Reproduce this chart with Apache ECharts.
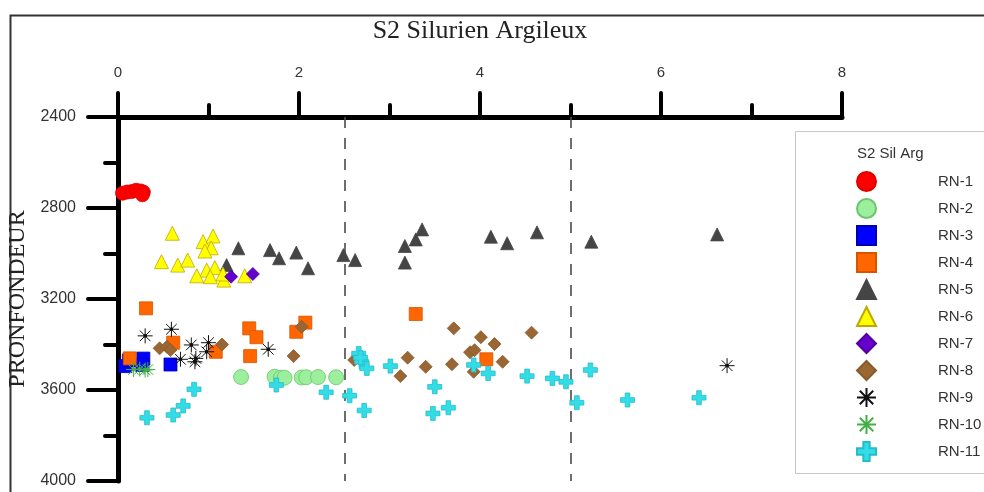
<!DOCTYPE html>
<html>
<head>
<meta charset="utf-8">
<script src="https://cdn.jsdelivr.net/npm/echarts@6/dist/echarts.min.js"></script>
<style>
  html, body { margin: 0; padding: 0; background: #fff; }
  #chart { width: 984px; height: 492px; }
</style>
</head>
<body>
<div id="chart"></div>
<script>
// S2 Silurien Argileux values per well: [S2, depth (m)]
const wells = ['RN-1', 'RN-2', 'RN-3', 'RN-4', 'RN-5', 'RN-6', 'RN-7', 'RN-8', 'RN-9', 'RN-10', 'RN-11'];

const rn1 = [[0.05, 2735], [0.10, 2730], [0.15, 2728], [0.20, 2722], [0.25, 2725], [0.28, 2730], [0.27, 2742]];
const rn2 = [[1.36, 3543], [1.73, 3542], [1.80, 3546], [1.84, 3546], [2.03, 3545], [2.08, 3544], [2.21, 3543], [2.41, 3544]];
const rn3 = [[0.08, 3495], [0.12, 3470], [0.28, 3462], [0.27, 3490], [0.58, 3488]];
const rn4 = [[0.31, 3241], [0.13, 3461], [0.61, 3392], [1.08, 3432], [1.45, 3329], [1.53, 3368], [1.46, 3451], [1.97, 3344], [2.07, 3304], [3.29, 3266], [4.07, 3465]];
const rn5 = [[1.20, 3051], [1.33, 2977], [1.68, 2985], [1.78, 3021], [1.97, 2996], [2.10, 3065], [2.49, 3007], [2.62, 3029], [3.17, 2967], [3.17, 3040], [3.29, 2938], [3.36, 2894], [4.12, 2926], [4.30, 2955], [4.63, 2907], [5.23, 2948], [6.62, 2916]];
const rn6 = [[0.60, 2911], [0.94, 2948], [1.05, 2923], [1.03, 2975], [0.96, 2989], [0.48, 3036], [0.66, 3051], [0.77, 3029], [0.98, 3073], [1.07, 3062], [0.87, 3098], [1.02, 3102], [1.17, 3117], [1.16, 3090], [1.40, 3098]];
const rn7 = [[1.25, 3102], [1.49, 3090]];
const rn8 = [[0.46, 3417], [0.54, 3410], [0.58, 3424], [1.15, 3400], [1.94, 3451], [2.03, 3322], [2.61, 3468], [3.20, 3458], [3.12, 3539], [3.40, 3498], [3.69, 3487], [3.71, 3329], [4.01, 3368], [4.16, 3398], [3.89, 3434], [3.94, 3425], [3.93, 3520], [4.25, 3476], [4.57, 3348]];
const rn9 = [[0.30, 3362], [0.59, 3333], [0.81, 3402], [1.00, 3392], [0.69, 3465], [0.86, 3461], [0.85, 3476], [0.98, 3432], [1.66, 3421], [6.73, 3493]];
const rn10 = [[0.17, 3510], [0.24, 3508], [0.30, 3512], [0.33, 3510]];
const rn11 = [[0.32, 3722], [0.61, 3710], [0.72, 3670], [0.84, 3597], [1.75, 3578], [2.30, 3610], [2.56, 3625], [2.72, 3690], [2.66, 3440], [2.69, 3476], [2.68, 3458], [2.75, 3505], [3.01, 3495], [3.50, 3586], [3.48, 3703], [3.65, 3678], [3.93, 3490], [4.09, 3527], [4.52, 3539], [4.80, 3549], [4.95, 3564], [5.22, 3512], [5.07, 3656], [5.63, 3644], [6.42, 3634]];

// Cut-off values of S2 shown as dashed reference lines
const cutoffs = [2.5, 5];

const STAR = 'path://M0,-10L0,10M-10,0L10,0M-7.07,-7.07L7.07,7.07M-7.07,7.07L7.07,-7.07M-1.6,-1.6h3.2v3.2h-3.2z';
const CROSS = 'path://M-1,-3h2v2h2v2h-2v2h-2v-2h-2v-2h2z';

const styles = [
  { data: rn1, symbol: 'circle', size: 14, color: '#ff0000', border: '#e00000' },
  { data: rn2, symbol: 'circle', size: 15, color: '#9cef9c', border: '#6cc46c' },
  { data: rn3, symbol: 'rect', size: 13, color: '#0000ff', border: '#0000b0' },
  { data: rn4, symbol: 'rect', size: 13, color: '#ff6600', border: '#d85400' },
  { data: rn5, symbol: 'triangle', size: 13, color: '#454545', border: '#454545' },
  { data: rn6, symbol: 'triangle', size: 14, color: '#ffff00', border: '#c0a800' },
  { data: rn7, symbol: 'diamond', size: 13, color: '#6600cc', border: '#5000a0' },
  { data: rn8, symbol: 'diamond', size: 13, color: '#9a6634', border: '#8a5a2c' },
  { data: rn9, symbol: STAR, size: 15, color: '#000000', border: '#111111', bw: 1 },
  { data: rn10, symbol: STAR, size: 15, color: '#2f9e2f', border: '#44b044', bw: 1 },
  { data: rn11, symbol: CROSS, size: 14, color: '#33dde6', border: '#22bccb' }
];

const series = wells.map((name, i) => {
  const s = styles[i];
  return {
    name: name,
    type: 'scatter',
    data: s.data,
    symbol: s.symbol,
    symbolSize: s.size,
    itemStyle: { color: s.color, borderColor: s.border, borderWidth: s.bw || 0.8, opacity: 1 },
    z: 3 + i
  };
});

series.push({
  name: 'cutoff',
  type: 'scatter',
  data: [],
  silent: true,
  markLine: {
    silent: true,
    symbol: 'none',
    label: { show: false },
    lineStyle: { color: '#4a4a4a', width: 1.6, type: [11, 10] },
    data: cutoffs.map(v => ({ xAxis: v }))
  },
  z: 1
});

const chart = echarts.init(document.getElementById('chart'), null, { renderer: 'canvas' });
chart.setOption({
  animation: false,
  backgroundColor: '#ffffff',
  grid: { left: 118, top: 117, right: 142, bottom: 11, containLabel: false, outerBoundsMode: 'none' },
  xAxis: {
    type: 'value',
    position: 'top',
    min: 0, max: 8, interval: 2,
    name: 'S2 Silurien Argileux',
    nameLocation: 'middle',
    nameGap: 73,
    nameTextStyle: { fontFamily: 'Liberation Serif', fontSize: 26, color: '#222' },
    axisLine: { show: true, onZero: false, lineStyle: { color: '#000', width: 5 } },
    axisTick: { show: true, length: 24, lineStyle: { color: '#000', width: 4, cap: 'round' } },
    minorTick: { show: true, splitNumber: 2, length: 12, lineStyle: { color: '#000', width: 4, cap: 'round' } },
    axisLabel: { margin: 37, fontFamily: 'Liberation Sans', fontSize: 15, color: '#333' },
    splitLine: { show: false }
  },
  yAxis: {
    type: 'value',
    inverse: true,
    min: 2400, max: 4000, interval: 400,
    name: 'PRONFONDEUR',
    nameLocation: 'middle',
    nameGap: 84,
    nameRotate: 90,
    nameTextStyle: { fontFamily: 'Liberation Serif', fontSize: 24, color: '#222' },
    axisLine: { show: true, onZero: false, lineStyle: { color: '#000', width: 5 } },
    axisTick: { show: true, length: 30, lineStyle: { color: '#000', width: 4, cap: 'round' } },
    minorTick: { show: true, splitNumber: 2, length: 13, lineStyle: { color: '#000', width: 4, cap: 'round' } },
    axisLabel: { margin: 42, fontFamily: 'Liberation Sans', fontSize: 16, color: '#333', formatter: v => String(v) },
    splitLine: { show: false }
  },
  legend: {
    data: wells,
    orient: 'vertical',
    left: 851,
    top: 166,
    itemWidth: 19,
    itemHeight: 19,
    itemGap: 6,
    selectedMode: false,
    textStyle: { fontFamily: 'Liberation Sans', fontSize: 15, color: '#333', padding: [0, 0, 0, 57] }
  },
  graphic: [
    {
      type: 'rect', left: 8, top: 13, z: -10, silent: true,
      shape: { width: 1000, height: 500 },
      style: { fill: 'none', stroke: '#333', lineWidth: 2 }
    },
    {
      type: 'rect', left: 795, top: 131, z: -5, silent: true,
      shape: { width: 200, height: 342 },
      style: { fill: '#fff', stroke: '#c8c8c8', lineWidth: 1 }
    },
    {
      type: 'text', left: 857, top: 146, silent: true,
      style: { text: 'S2 Sil Arg', fontFamily: 'Liberation Sans', fontSize: 15, fill: '#333' }
    }
  ],
  series: series
});
</script>
</body>
</html>
